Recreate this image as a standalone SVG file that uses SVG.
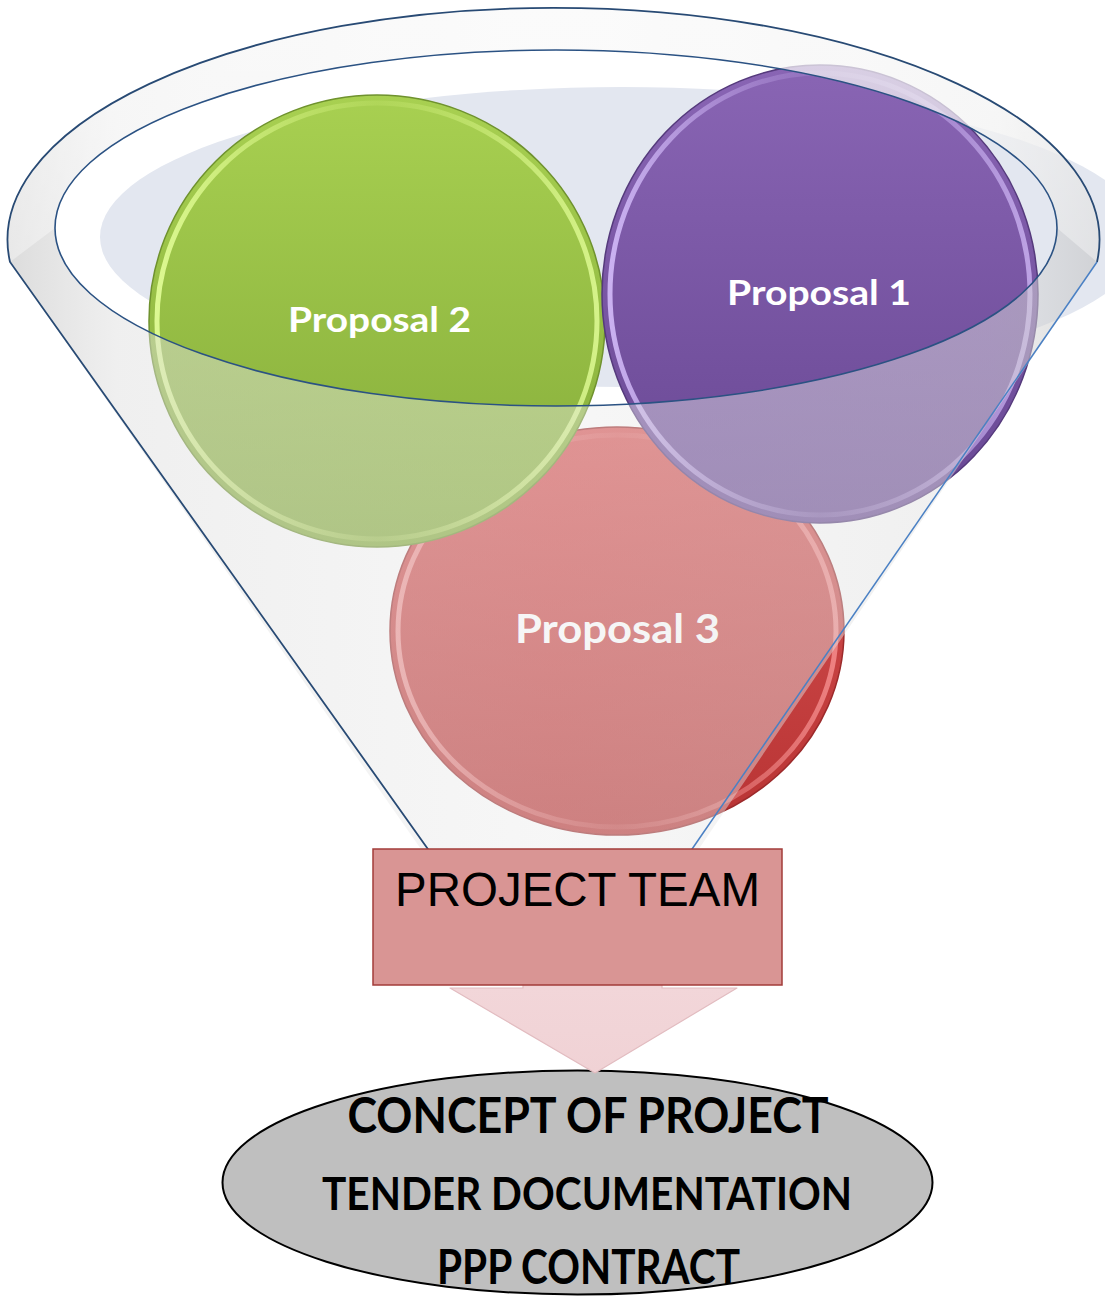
<svg xmlns="http://www.w3.org/2000/svg" width="1105" height="1297" viewBox="0 0 1105 1297">
<style>
  .plabel { font-family: Lato, "Liberation Sans", sans-serif; font-weight: bold; text-anchor: middle; }
  .outtext { font-family: Lato, "Liberation Sans", sans-serif; font-weight: bold; fill: #000; text-anchor: middle; }
  .boxtext { font-family: "Liberation Sans", Arial, sans-serif; fill: #000; }
</style>
<defs>
  <linearGradient id="gGreen" x1="0" y1="0" x2="0" y2="1">
    <stop offset="0" stop-color="#a8d051"/>
    <stop offset="1" stop-color="#84ab39"/>
  </linearGradient>
  <linearGradient id="gPurple" x1="0" y1="0" x2="0" y2="1">
    <stop offset="0" stop-color="#8965b4"/>
    <stop offset="1" stop-color="#684793"/>
  </linearGradient>
  <linearGradient id="gRed" x1="0" y1="0" x2="0" y2="1">
    <stop offset="0" stop-color="#d85454"/>
    <stop offset="1" stop-color="#b83333"/>
  </linearGradient>
  <linearGradient id="gGreenRim" x1="0" y1="0" x2="1" y2="0">
    <stop offset="0" stop-color="#e4ff9a" stop-opacity="0.9"/>
    <stop offset="0.5" stop-color="#d2f07c" stop-opacity="0.2"/>
    <stop offset="1" stop-color="#e4ff9a" stop-opacity="0.8"/>
  </linearGradient>
  <linearGradient id="gPurpleRim" x1="0" y1="0" x2="1" y2="0">
    <stop offset="0" stop-color="#d9c2ff" stop-opacity="0.85"/>
    <stop offset="0.5" stop-color="#b89ce0" stop-opacity="0.2"/>
    <stop offset="1" stop-color="#d9c2ff" stop-opacity="0.7"/>
  </linearGradient>
  <linearGradient id="gRedRim" x1="0" y1="0" x2="1" y2="0">
    <stop offset="0" stop-color="#ffb0b0" stop-opacity="0.7"/>
    <stop offset="0.5" stop-color="#f09090" stop-opacity="0.15"/>
    <stop offset="1" stop-color="#ff9c9c" stop-opacity="0.7"/>
  </linearGradient>
  <linearGradient id="gBody" x1="0" y1="0" x2="1" y2="0">
    <stop offset="0" stop-color="#c4c4c4" stop-opacity="0.6"/>
    <stop offset="0.1" stop-color="#dedede" stop-opacity="0.48"/>
    <stop offset="0.5" stop-color="#ebebeb" stop-opacity="0.42"/>
    <stop offset="0.9" stop-color="#dedede" stop-opacity="0.48"/>
    <stop offset="1" stop-color="#c4c4c4" stop-opacity="0.6"/>
  </linearGradient>
  <linearGradient id="gBand" x1="0" y1="0" x2="0" y2="1">
    <stop offset="0" stop-color="#ffffff" stop-opacity="0.55"/>
    <stop offset="1" stop-color="#ffffff" stop-opacity="0.35"/>
  </linearGradient>
  <linearGradient id="gArrow" x1="0" y1="0" x2="0" y2="1">
    <stop offset="0" stop-color="#f4dadd"/>
    <stop offset="1" stop-color="#f0d2d5"/>
  </linearGradient>
</defs>

<rect x="0" y="0" width="1105" height="1297" fill="#ffffff"/>

<!-- funnel interior (opening) -->
<g id="node-funnel-interior">
  <ellipse cx="622" cy="237" rx="522" ry="150" fill="#e3e7f0"/>
</g>

<g id="node-proposal-3">
  <ellipse cx="617" cy="631" rx="227" ry="204" fill="url(#gRed)" stroke="#9c2a2b" stroke-width="1.5"/>
  <ellipse cx="617" cy="631" rx="219" ry="196" fill="none" stroke="url(#gRedRim)" stroke-width="5"/>
  <text class="plabel" x="617.5" y="643" font-size="41" fill="#ffffff" textLength="205" lengthAdjust="spacingAndGlyphs">Proposal 3</text>
</g>

<g id="node-proposal-2">
  <ellipse cx="377" cy="321" rx="228" ry="226" fill="url(#gGreen)" stroke="#6f922e" stroke-width="1.5"/>
  <ellipse cx="377" cy="321" rx="220" ry="218" fill="none" stroke="url(#gGreenRim)" stroke-width="5"/>
  <text class="plabel" x="379.5" y="332" font-size="35" fill="#ffffff" textLength="183" lengthAdjust="spacingAndGlyphs">Proposal 2</text>
</g>

<g id="node-proposal-1">
  <ellipse cx="820" cy="294" rx="218" ry="229" fill="url(#gPurple)" stroke="#553a7c" stroke-width="1.5"/>
  <ellipse cx="820" cy="294" rx="210" ry="221" fill="none" stroke="url(#gPurpleRim)" stroke-width="5"/>
  <text class="plabel" x="819" y="305" font-size="35" fill="#ffffff" textLength="184" lengthAdjust="spacingAndGlyphs">Proposal 1</text>
</g>

<!-- translucent funnel body and rim -->
<g id="node-funnel">
  <path d="M10,262 A546,232 0 1 1 1097,262 L690,862 L430,862 Z M55,228 A501,178 0 1 0 1057,228 A501,178 0 1 0 55,228 Z" fill="url(#gBody)" fill-rule="evenodd"/>
  <path d="M10,262 A546,232 0 1 1 1097,262 L1057,228 A501,178 0 0 0 55,228 Z" fill="url(#gBand)"/>
  <path d="M430,852 L10,262 A546,232 0 1 1 1097,262" fill="none" stroke="#284a74" stroke-width="1.8"/>
  <path d="M1097,262 L690,852" fill="none" stroke="#4a80c4" stroke-width="1.5"/>
  <ellipse cx="556" cy="228" rx="501" ry="178" fill="none" stroke="#2b5283" stroke-width="1.6"/>
</g>

<g id="node-outcome">
  <ellipse cx="577.5" cy="1182.5" rx="355" ry="112" fill="#bfbfbf" stroke="#000000" stroke-width="2"/>
  <text class="outtext" x="588" y="1133" font-size="50" textLength="481" lengthAdjust="spacingAndGlyphs">CONCEPT OF PROJECT</text>
  <text class="outtext" x="587" y="1210" font-size="46" textLength="530" lengthAdjust="spacingAndGlyphs">TENDER DOCUMENTATION</text>
  <text class="outtext" x="588.5" y="1284" font-size="48" textLength="303" lengthAdjust="spacingAndGlyphs">PPP CONTRACT</text>
</g>

<g id="connectors">
  <path d="M523,900 L662,900 L662,988 L737,988 L595,1073 L450,988 L523,988 Z" fill="url(#gArrow)" stroke="#e2bcc0" stroke-width="1.2" stroke-linejoin="round"/>
</g>

<g id="node-project-team">
  <rect x="373" y="849" width="409" height="136" fill="#d99594" stroke="#a23c3a" stroke-width="1.5"/>
  <text class="boxtext" x="395" y="906" font-size="47.5" textLength="365" lengthAdjust="spacingAndGlyphs">PROJECT TEAM</text>
</g>
</svg>
